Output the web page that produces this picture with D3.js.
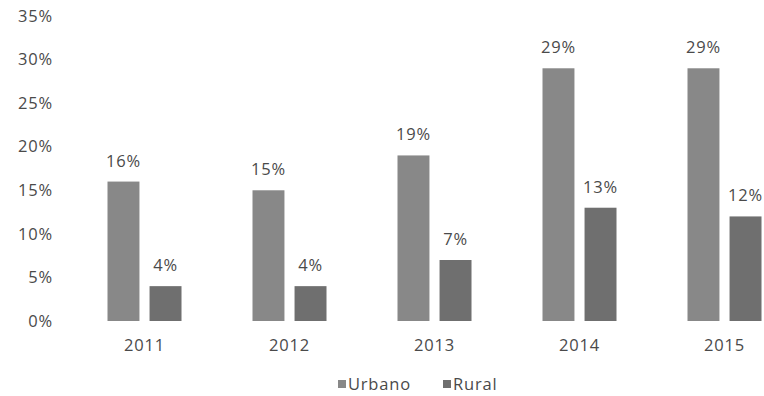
<!DOCTYPE html>
<html><head><meta charset="utf-8">
<script src="https://cdn.jsdelivr.net/npm/d3@7"></script>
<style>body{margin:0;background:#fff;} svg{display:block;}</style>
</head><body>
<svg id="c" width="764" height="396"></svg>
<script>
const years = ["2011","2012","2013","2014","2015"];
const seriesNames = ["Urbano","Rural"];
const urbano = [16,15,19,29,29];
const rural = [4,4,7,13,12];
const yTicks = [0,5,10,15,20,25,30,35];
const colors = ["#888888","#6f6f6f"];

const svg = d3.select("#c");
const font = "'Open Sans', 'Liberation Sans', sans-serif";
const txt = "#4a4a4a";
const fs = "16.5px";
const ls = "0.8px";
const y = d3.scaleLinear().domain([0,35]).range([321,16]);
const x = d3.scaleBand().domain(years).range([72,797]).padding(0);
const x1 = d3.scaleBand().domain(seriesNames).range([0,74]).paddingInner(0.24);

function styleText(sel){
  sel.attr("fill",txt).style("font-family",font).style("font-size",fs).style("letter-spacing",ls);
}

const yAxis = svg.append("g").attr("transform","translate(53,0)")
  .call(d3.axisLeft(y).tickValues(yTicks).tickFormat(d=>d+"%").tickSize(0).tickPadding(0));
yAxis.select(".domain").remove();
yAxis.selectAll("text").call(styleText);

const xAxis = svg.append("g").attr("transform","translate(0,334)")
  .call(d3.axisBottom(x).tickSize(0).tickPadding(5));
xAxis.select(".domain").remove();
xAxis.selectAll("text").call(styleText);

const data = years.map((yr,i)=>({yr, vals:[urbano[i],rural[i]]}));
const g = svg.append("g").selectAll("g").data(data).join("g")
  .attr("transform",d=>`translate(${x(d.yr)+x.bandwidth()/2-37},0)`);
g.selectAll("rect").data(d=>d.vals.map((v,j)=>({v,s:seriesNames[j],j}))).join("rect")
  .attr("x",d=>x1(d.s)).attr("width",x1.bandwidth())
  .attr("y",d=>y(d.v)).attr("height",d=>y(0)-y(d.v))
  .attr("fill",d=>colors[d.j]);
g.selectAll("text").data(d=>d.vals.map((v,j)=>({v,s:seriesNames[j],j}))).join("text")
  .attr("x",d=>x1(d.s)+x1.bandwidth()/2).attr("y",d=>y(d.v)-15)
  .attr("text-anchor","middle").call(styleText)
  .text(d=>d.v+"%");

const leg = svg.append("g").attr("transform","translate(338,384)");
const lx = [0,105];
seriesNames.forEach((s,i)=>{
  leg.append("rect").attr("x",lx[i]).attr("y",-4).attr("width",8).attr("height",8).attr("fill",colors[i]);
  leg.append("text").attr("x",lx[i]+10).attr("y",0).attr("dy","0.35em")
    .call(styleText).text(s);
});
</script>
</body></html>
